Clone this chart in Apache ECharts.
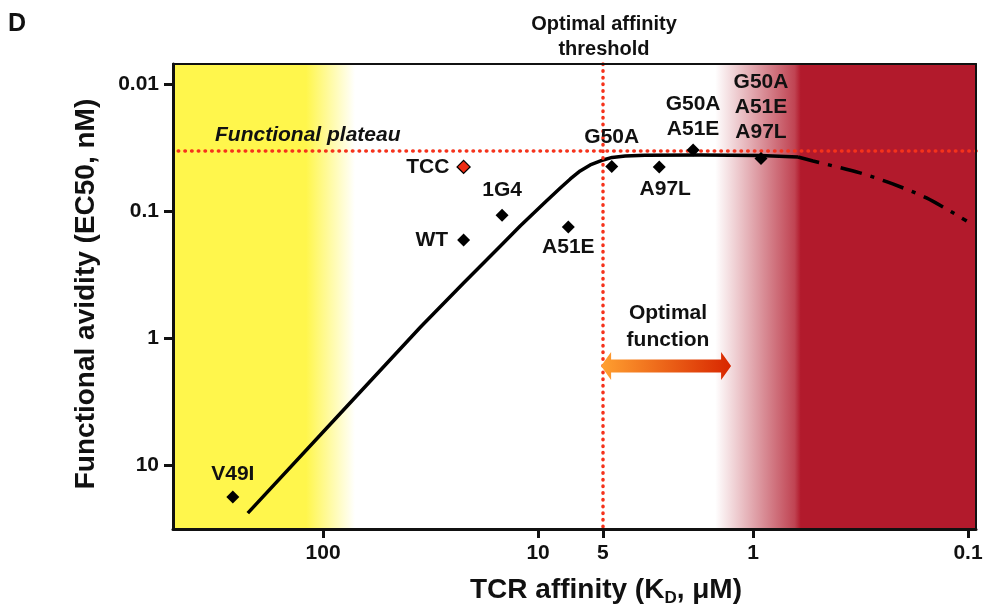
<!DOCTYPE html>
<html><head><meta charset="utf-8">
<script src="https://cdn.jsdelivr.net/npm/echarts@6/dist/echarts.min.js"></script>
<style>html,body{margin:0;padding:0;background:#fff}#c{width:984px;height:611px}</style>
</head><body><div id="c"></div>
<script>
// ---- data (real units: KD in µM, EC50 in nM) ----
const xTicks = [100, 10, 5, 1, 0.1];
const xTickLabels = ['100', '10', '5', '1', '0.1'];
const yTicks = [0.01, 0.1, 1, 10];
const yTickLabels = ['0.01', '0.1', '1', '10'];
const xRange = [0.0918, 499];     // KD at right / left edge
const yRange = [0.00697, 31.9];   // EC50 at top / bottom edge

const mutants = ['V49I', 'WT', 'TCC', '1G4', 'A51E', 'G50A', 'A97L', 'G50A\nA51E', 'G50A\nA51E\nA97L'];
const kd      = [263, 22.2, 22.2, 14.7, 7.23, 4.54, 2.73, 1.90, 0.918];
const ec50    = [17.9, 0.169, 0.045, 0.108, 0.134, 0.0446, 0.0450, 0.0331, 0.0386];

const curveKd   = [224, 82.8, 35.2, 22.2, 14.96, 12.08, 9.25, 7.88, 7.08, 6.37, 5.72, 4.98, 4.52, 3.93, 3.18, 1.76, 0.927, 0.618];
const curveEc50 = [23.9, 3.90, 0.819, 0.369, 0.189, 0.131, 0.0849, 0.0659, 0.0560, 0.0484, 0.0434, 0.0397, 0.0379, 0.0369, 0.0364, 0.0362, 0.0366, 0.0376];
const tailKd    = [0.618, 0.526, 0.318, 0.224, 0.156, 0.1014];
const tailEc50  = [0.0376, 0.0404, 0.0502, 0.0613, 0.079, 0.120];

const plateauEc50 = 0.0339;
const thresholdKd = 5;
const yellowZone = [120, 71];     // KD: solid yellow ends, fade ends
const redZone = [1.50, 0.60];     // KD: fade starts, solid red starts
const arrowKd = [5.09, 1.265];
const arrowEc50 = 1.66;

// ---- chart ----
const L = Math.log10;
const FF = '"Liberation Sans", Arial, Helvetica, sans-serif';
const INK = '#111';

function nearestLabel(v, ticks, labels) {
  let bi = 0, bd = Infinity;
  ticks.forEach((t, i) => { const d = Math.abs(L(t) - v); if (d < bd) { bd = d; bi = i; } });
  return labels[bi];
}

const labelCfg = {
  'V49I': { position: 'top', distance: 4 },
  'WT': { position: 'left', distance: 9 },
  'TCC': { position: 'left', distance: 7 },
  '1G4': { position: 'top', distance: 6 },
  'A51E': { position: 'bottom', distance: 1 },
  'G50A': { position: 'top', distance: 10 },
  'A97L': { position: 'bottom', distance: 3, offset: [6, 0] },
  'G50A\nA51E': { position: 'top', distance: 2 },
  'G50A\nA51E\nA97L': { position: 'top', distance: 7 }
};

const points = mutants.map((m, i) => {
  const item = { name: m, value: [L(kd[i]), L(ec50[i])], label: labelCfg[m] };
  if (m === 'TCC') item.itemStyle = { color: '#ee2c14', borderColor: '#000', borderWidth: 1.3, opacity: 1 };
  return item;
});

const curve = curveKd.map((k, i) => [L(k), L(curveEc50[i])]);
const tail = tailKd.map((k, i) => [L(k), L(tailEc50[i])]);

const xMin = L(xRange[0]), xMax = L(xRange[1]);
const yMin = L(yRange[0]), yMax = L(yRange[1]);

const yellowSolidFrac = (L(xRange[1]) - L(yellowZone[0])) / (L(xRange[1]) - L(yellowZone[1]));
const redSolidFrac = (L(redZone[0]) - L(redZone[1])) / (L(redZone[0]) - L(xRange[0]));

const chart = echarts.init(document.getElementById('c'));
const option = {
  animation: false,
  backgroundColor: '#fff',
  grid: { left: 173, right: 8, top: 64, bottom: 82, show: false, containLabel: false, outerBoundsMode: 'none' },
  xAxis: [{
    type: 'value', min: xMin, max: xMax, inverse: true, position: 'bottom', z: 10,
    splitLine: { show: false },
    axisLine: { onZero: false, lineStyle: { color: INK, width: 3 } },
    axisTick: { customValues: xTicks.map(L), length: 9, lineStyle: { color: INK, width: 3 } },
    axisLabel: {
      customValues: xTicks.map(L), margin: 14, fontSize: 21, fontWeight: 'bold', color: INK, fontFamily: FF,
      formatter: v => nearestLabel(v, xTicks, xTickLabels)
    }
  }, {
    type: 'value', min: xMin, max: xMax, inverse: true, position: 'top', z: 10,
    splitLine: { show: false }, axisTick: { show: false }, axisLabel: { show: false },
    axisLine: { onZero: false, lineStyle: { color: INK, width: 2 } }
  }],
  yAxis: [{
    type: 'value', min: yMin, max: yMax, inverse: true, position: 'left', z: 10,
    splitLine: { show: false },
    axisLine: { onZero: false, lineStyle: { color: INK, width: 3 } },
    axisTick: { customValues: yTicks.map(L), length: 9, lineStyle: { color: INK, width: 3 } },
    axisLabel: {
      customValues: yTicks.map(L), margin: 14, fontSize: 21, fontWeight: 'bold', color: INK, fontFamily: FF,
      formatter: v => nearestLabel(v, yTicks, yTickLabels)
    }
  }, {
    type: 'value', min: yMin, max: yMax, inverse: true, position: 'right', z: 10,
    splitLine: { show: false }, axisTick: { show: false }, axisLabel: { show: false },
    axisLine: { onZero: false, lineStyle: { color: INK, width: 2 } }
  }],
  series: [
    {
      type: 'line', data: [], z: 1, silent: true, showSymbol: false,
      markArea: {
        silent: true, label: { show: false },
        data: [
          [{ xAxis: xMax, yAxis: yMin, itemStyle: { opacity: 1, color: new echarts.graphic.LinearGradient(0, 0, 1, 0, [
              { offset: 0, color: '#fff64c' }, { offset: yellowSolidFrac, color: '#fff64c' },
              { offset: 1, color: 'rgba(255,246,76,0)' }]) } },
           { xAxis: L(yellowZone[1]), yAxis: yMax }],
          [{ xAxis: L(redZone[0]), yAxis: yMin, itemStyle: { opacity: 1, color: new echarts.graphic.LinearGradient(0, 0, 1, 0, [
              { offset: 0, color: 'rgba(178,26,44,0)' }, { offset: redSolidFrac * 0.93, color: 'rgba(178,26,44,0.82)' },
              { offset: redSolidFrac, color: '#b21a2c' }, { offset: 1, color: '#b21a2c' }]) } },
           { xAxis: xMin, yAxis: yMax }]
        ]
      }
    },
    {
      type: 'line', data: [], z: 3, silent: true,
      markLine: {
        silent: true, symbol: ['none', 'none'], label: { show: false },
        lineStyle: { color: '#f5321b', width: 3.5, type: [0.5, 6.2], cap: 'round' },
        emphasis: { disabled: true },
        data: [{ xAxis: L(thresholdKd) }, { yAxis: L(plateauEc50) }]
      }
    },
    {
      type: 'line', data: curve, z: 4, smooth: false, showSymbol: false, silent: true,
      lineStyle: { color: '#000', width: 3.5, join: 'round' }
    },
    {
      type: 'line', data: tail, z: 4, smooth: 0.3, showSymbol: false, silent: true,
      lineStyle: { color: '#000', width: 3.5, type: [22, 9, 4, 9] }
    },
    {
      type: 'scatter', data: points, z: 6, symbol: 'diamond', symbolSize: 13, silent: true,
      itemStyle: { color: '#000', opacity: 1 },
      label: { show: true, formatter: p => p.name, fontSize: 21, fontWeight: 'bold', color: INK, fontFamily: FF, lineHeight: 25 }
    }
  ],
  graphic: [
    { id: 'panel', type: 'text', left: 8, top: 12, style: { text: 'D', fontSize: 25, fontWeight: 'bold', fill: INK, fontFamily: FF } },
    { id: 'thr', type: 'text', x: 604, y: 12, style: { text: 'Optimal affinity\nthreshold', align: 'center', verticalAlign: 'top', lineHeight: 25, fontSize: 20, fontWeight: 'bold', fill: INK, fontFamily: FF } },
    { id: 'plat', type: 'text', x: 215, y: 135, z: 20, style: { text: 'Functional plateau', align: 'left', verticalAlign: 'middle', fontSize: 21, fontWeight: 'bold', fontStyle: 'italic', fill: INK, fontFamily: FF } },
    { id: 'optf', type: 'text', x: 668, y: 327, z: 20, style: { text: 'Optimal\nfunction', align: 'center', verticalAlign: 'middle', lineHeight: 27, fontSize: 21, fontWeight: 'bold', fill: INK, fontFamily: FF } },
    { id: 'ytitle', type: 'text', x: 86, y: 294, rotation: Math.PI / 2, style: { text: 'Functional avidity (EC50, nM)', align: 'center', verticalAlign: 'middle', fontSize: 28, fontWeight: 'bold', fill: INK, fontFamily: FF } },
    { id: 'xtitle', type: 'text', x: 606, y: 590, style: {
        text: 'TCR affinity (K{sub|D}, μM)', align: 'center', verticalAlign: 'middle', fontSize: 28, fontWeight: 'bold', fill: INK, fontFamily: FF,
        rich: { sub: { fontSize: 17, fontWeight: 'bold', fill: INK, fontFamily: FF, verticalAlign: 'top', padding: [16, 0, 0, 0] } } } }
  ]
};
chart.setOption(option);

// double-headed arrow placed in data coordinates
const pA = chart.convertToPixel({ gridIndex: 0 }, [L(arrowKd[0]), L(arrowEc50)]);
const pB = chart.convertToPixel({ gridIndex: 0 }, [L(arrowKd[1]), L(arrowEc50)]);
const cy = pA[1], x0 = pA[0], x1 = pB[0], sh = 6.5, hh = 14, hl = 10;
chart.setOption({
  graphic: [{
    id: 'arrow', type: 'polygon', z: 30, silent: true,
    shape: { points: [[x0, cy], [x0 + hl, cy - hh], [x0 + hl, cy - sh], [x1 - hl, cy - sh], [x1 - hl, cy - hh], [x1, cy],
                      [x1 - hl, cy + hh], [x1 - hl, cy + sh], [x0 + hl, cy + sh], [x0 + hl, cy + hh]] },
    style: { fill: new echarts.graphic.LinearGradient(0, 0, 1, 0, [{ offset: 0, color: '#ffa030' }, { offset: 1, color: '#d82600' }]) }
  }]
});
</script></body></html>
